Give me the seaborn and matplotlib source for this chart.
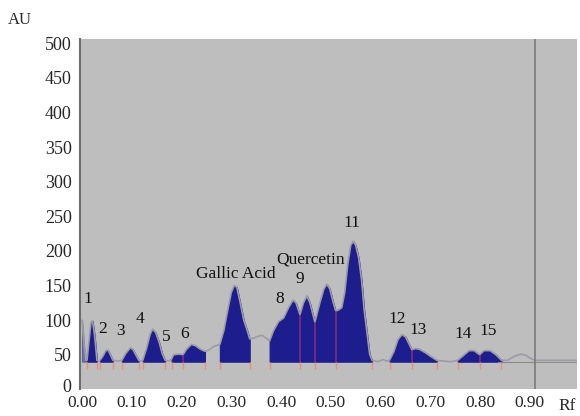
import matplotlib
matplotlib.use('Agg')
import matplotlib.pyplot as plt
import matplotlib.transforms as mtransforms
import seaborn as sns
import numpy as np
import pandas as pd

# densitogram trace (Rf, AU)
rf = [0.000, 0.004, 0.008, 0.010, 0.014, 0.018, 0.021, 0.025, 0.030, 0.034,
      0.036, 0.042, 0.048, 0.052, 0.057, 0.062, 0.072,
      0.080, 0.088, 0.097, 0.102, 0.108, 0.114, 0.118,
      0.122, 0.130, 0.137, 0.142, 0.148, 0.155, 0.161, 0.167, 0.175,
      0.180, 0.184, 0.195, 0.203, 0.210, 0.220, 0.228, 0.238, 0.247,
      0.255, 0.265, 0.277,
      0.285, 0.293, 0.300, 0.306, 0.311, 0.318, 0.325, 0.332, 0.337,
      0.345, 0.355, 0.362, 0.370, 0.377,
      0.385, 0.395, 0.405, 0.415, 0.424, 0.430, 0.438, 0.445, 0.452, 0.458,
      0.468, 0.478, 0.486, 0.492, 0.498, 0.505, 0.510, 0.516, 0.522,
      0.528, 0.534, 0.540, 0.545, 0.550, 0.556, 0.562, 0.567, 0.572, 0.578, 0.583,
      0.595, 0.605, 0.612,
      0.618, 0.627, 0.635, 0.643, 0.650, 0.657, 0.663,
      0.670, 0.678, 0.690, 0.700, 0.713,
      0.725, 0.740, 0.750,
      0.755, 0.765, 0.778, 0.788, 0.799, 0.808, 0.820, 0.832, 0.843,
      0.855, 0.870, 0.882, 0.893, 0.903, 0.912, 0.940, 0.995]
au = [100, 65, 42, 42, 70, 97, 99, 80, 42, 41,
      42, 48, 56, 57, 50, 42, 41,
      42, 52, 60, 58, 50, 42, 41,
      42, 60, 80, 87, 82, 68, 52, 42, 41,
      44, 50, 51, 50, 58, 65, 63, 58, 55,
      57, 62, 65,
      85, 115, 140, 150, 148, 125, 100, 85, 73,
      74, 77, 78, 74, 70,
      85, 98, 103, 118, 129, 125, 108, 125, 135, 125,
      97, 125, 145, 152, 145, 125, 113, 115, 118,
      140, 180, 208, 214, 208, 190, 157, 115, 86, 51, 42,
      40, 43, 41,
      42, 55, 72, 79, 76, 66, 57,
      59, 58, 53, 48, 42,
      41, 40, 41,
      42, 48, 56, 56, 50, 56, 56, 50, 42,
      42, 48, 51, 49, 44, 42, 42, 42]

# integrated zones (start, end); the first one is only partly on the plate
zone_start = [0.000, 0.010, 0.036, 0.080, 0.122, 0.180, 0.277, 0.377, 0.618, 0.755]
zone_end = [0.008, 0.030, 0.062, 0.114, 0.167, 0.247, 0.337, 0.583, 0.713, 0.843]
zone_alpha = [0.45, 1, 1, 1, 1, 1, 1, 1, 1, 1]

# peak boundary marks and the splits drawn through the filled peaks
bounds = [0.010, 0.030, 0.036, 0.062, 0.080, 0.114, 0.122, 0.167, 0.180, 0.203,
          0.247, 0.277, 0.337, 0.377, 0.438, 0.468, 0.510, 0.583, 0.618, 0.663,
          0.713, 0.755, 0.799, 0.843]
splits = [0.203, 0.438, 0.468, 0.510, 0.663, 0.799]

peak_labels = ['1', '2', '3', '4', '5', '6', 'Gallic Acid', '8', '9', 'Quercetin',
               '11', '12', '13', '14', '15']
label_rf = [0.012, 0.042, 0.078, 0.116, 0.169, 0.207, 0.309, 0.398, 0.438, 0.460,
            0.542, 0.633, 0.675, 0.767, 0.817]
label_au = [130, 87, 84, 101, 76, 80, 167, 130, 159, 187,
            241, 101, 86, 80, 84]

yticks = [0, 50, 100, 150, 200, 250, 300, 350, 400, 450, 500]
xticks = [0.0, 0.1, 0.2, 0.3, 0.4, 0.5, 0.6, 0.7, 0.8, 0.9]
BASE = 40
END_LINE = 0.91

sns.set_theme(style='white')
plt.rcParams['font.family'] = ['Liberation Serif', 'DejaVu Serif']

df = pd.DataFrame({'rf': rf, 'au': au})
x = df['rf'].to_numpy()
y = df['au'].to_numpy()

fig = plt.figure(figsize=(5.8, 4.16), dpi=100)
ax = fig.add_axes([0.138, 0.064, 0.857, 0.842])
ax.set_facecolor('#bdbebd')

sns.lineplot(data=df, x='rf', y='au', ax=ax, color='#9c9ca6', lw=1.2, sort=False)

blue = '#1d1d8e'
for s, e, a in zip(zone_start, zone_end, zone_alpha):
    m = (x >= s - 1e-9) & (x <= e + 1e-9)
    ax.fill_between(x[m], BASE, y[m], color=blue, lw=0.8, edgecolor=blue, alpha=a)

for b in splits:
    ax.vlines(b, BASE, np.interp(b, x, y), color='#8a2c7c', lw=1.1)
ax.vlines(bounds, 29, BASE, color='#e8907a', lw=1.0)
ax.axhline(BASE, xmin=0.84, color='#8a8a8a', lw=0.8)
ax.axvline(END_LINE, color='#7a7a7a', lw=1.2)

for t, lx, ly in zip(peak_labels, label_rf, label_au):
    ax.text(lx, ly, t, ha='center', va='center', fontsize=12.5, color='#111111')

ax.set_xlim(-0.004, 0.995)
ax.set_ylim(0, 506)
ax.set_yticks(yticks)
ax.set_xticks(xticks)
ax.set_xticklabels(['%.2f' % v for v in xticks])
ax.tick_params(axis='y', length=4, width=1, color='#777777', pad=2, labelsize=13)
ax.tick_params(axis='x', length=0, pad=4, labelsize=12.5)
ax.set_xlabel('')
ax.set_ylabel('')
for side in ['top', 'right', 'bottom']:
    ax.spines[side].set_visible(False)
ax.spines['left'].set_color('#6e6e6e')
ax.spines['left'].set_linewidth(1.5)

# nudge the "0" label up a little so it clears "0.00"
zero = ax.get_yticklabels()[0]
zero.set_transform(zero.get_transform() + mtransforms.ScaledTranslation(0, 3 / 72, fig.dpi_scale_trans))

fig.text(0.035, 0.952, 'AU', fontsize=12, ha='center', va='center')
fig.text(0.978, 0.025, 'Rf', fontsize=12.5, ha='center', va='center')

fig.savefig('out.png', dpi=100)
